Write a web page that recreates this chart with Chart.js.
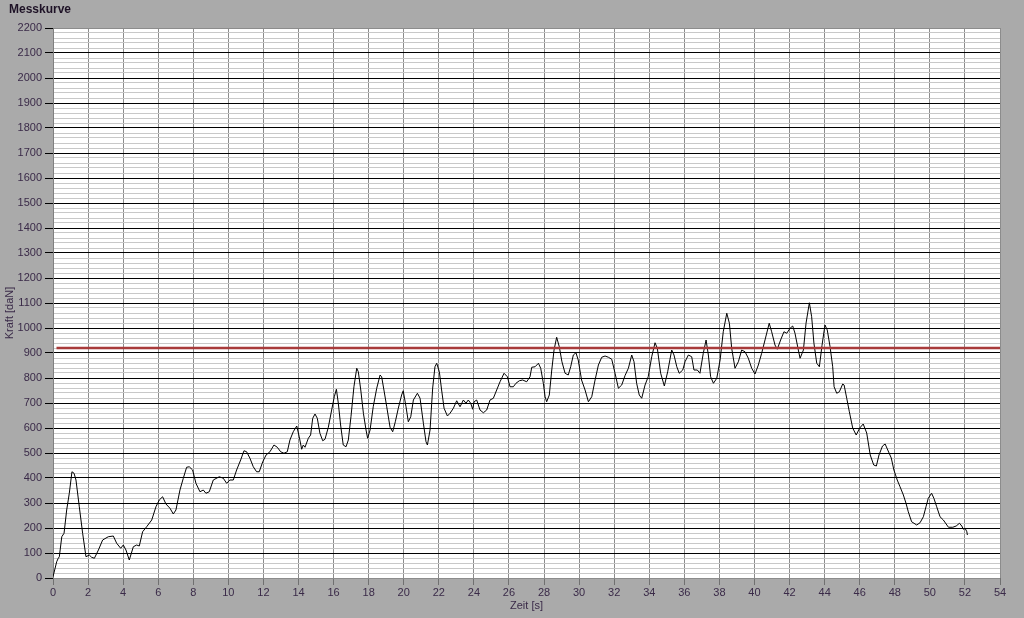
<!DOCTYPE html>
<html>
<head>
<meta charset="utf-8">
<script src="https://cdn.jsdelivr.net/npm/chart.js@4/dist/chart.umd.min.js"></script>
<style>
  html, body { margin: 0; padding: 0; background: #aaaaaa; }
  #wrap { width: 1024px; height: 618px; }
</style>
</head>
<body>
<div id="wrap"><canvas id="chart" width="1024" height="618"></canvas></div>
<script>
// Messkurve - Kraft über Zeit

const timeS = [
  0, 0.21, 0.3, 0.36, 0.5, 0.63, 0.78, 0.93, 1.08, 1.2, 1.31, 1.5, 1.69, 1.88, 2.07, 2.2, 2.36, 2.59, 2.83, 3.15,
  3.44, 3.63, 3.86, 4.01, 4.16, 4.35, 4.58, 4.77, 4.92, 5.11, 5.34, 5.63, 5.87, 6.06, 6.25, 6.44, 6.67, 6.86, 7.01, 7.24,
  7.43, 7.62, 7.77, 7.96, 8.15, 8.38, 8.57, 8.72, 8.91, 9.14, 9.48, 9.71, 9.9, 10.09, 10.28, 10.47, 10.7, 10.89, 11.04, 11.23,
  11.42, 11.61, 11.76, 11.96, 12.15, 12.37, 12.6, 12.79, 12.98, 13.17, 13.36, 13.51, 13.7, 13.9, 14.04, 14.18, 14.27, 14.37, 14.56, 14.69,
  14.81, 14.94, 15.07, 15.22, 15.38, 15.51, 15.7, 15.89, 16.04, 16.16, 16.27, 16.4, 16.55, 16.71, 16.84, 16.99, 17.16, 17.32, 17.41, 17.55,
  17.7, 17.85, 17.94, 18.08, 18.26, 18.46, 18.65, 18.74, 18.87, 19.03, 19.22, 19.37, 19.52, 19.69, 19.88, 19.97, 20.13, 20.26, 20.4, 20.55,
  20.78, 20.93, 21.12, 21.27, 21.35, 21.5, 21.65, 21.78, 21.88, 22.03, 22.16, 22.3, 22.49, 22.64, 22.83, 23.02, 23.21, 23.4, 23.55, 23.68,
  23.82, 23.93, 24.01, 24.16, 24.35, 24.54, 24.73, 24.92, 25.11, 25.3, 25.49, 25.72, 25.91, 26.06, 26.25, 26.4, 26.59, 26.78, 27.01, 27.2,
  27.3, 27.49, 27.68, 27.81, 27.96, 28.06, 28.15, 28.3, 28.44, 28.57, 28.72, 28.87, 29.02, 29.2, 29.38, 29.52, 29.67, 29.82, 29.95, 30.14,
  30.34, 30.53, 30.72, 30.91, 31.1, 31.29, 31.48, 31.67, 31.86, 32.05, 32.24, 32.43, 32.62, 32.81, 33.0, 33.13, 33.28, 33.43, 33.57, 33.76,
  33.94, 34.14, 34.33, 34.46, 34.65, 34.86, 35.05, 35.28, 35.41, 35.57, 35.71, 35.91, 36.04, 36.23, 36.42, 36.55, 36.74, 36.89, 37.08, 37.24,
  37.37, 37.5, 37.66, 37.85, 38.04, 38.22, 38.42, 38.57, 38.7, 38.89, 39.08, 39.27, 39.46, 39.65, 39.84, 40.03, 40.22, 40.41, 40.6, 40.84,
  40.98, 41.17, 41.3, 41.49, 41.68, 41.84, 42.03, 42.18, 42.31, 42.5, 42.6, 42.79, 42.94, 43.13, 43.26, 43.39, 43.55, 43.7, 43.85, 44.02,
  44.15, 44.31, 44.46, 44.54, 44.69, 44.84, 45.03, 45.11, 45.26, 45.41, 45.6, 45.8, 46.0, 46.2, 46.4, 46.6, 46.8, 46.95, 47.1, 47.3,
  47.45, 47.6, 47.8, 47.95, 48.14, 48.3, 48.49, 48.64, 48.77, 48.96, 49.25, 49.44, 49.63, 49.78, 49.91, 50.1, 50.23, 50.39, 50.58, 50.77,
  51.06, 51.31, 51.5, 51.69, 51.82, 51.91, 52.01, 52.11, 52.14
]

const forceDaN = [
  5, 65, 79, 85, 165, 179, 272, 339, 425, 419, 392, 285, 179, 85, 92, 83, 79, 112, 152, 165,
  168, 139, 119, 132, 112, 72, 125, 132, 128, 185, 205, 232, 285, 312, 325, 296, 279, 256, 272, 352,
  399, 443, 445, 432, 379, 345, 352, 339, 345, 392, 405, 399, 379, 392, 392, 432, 472, 509, 505, 479,
  445, 425, 425, 465, 492, 505, 532, 523, 505, 499, 505, 552, 585, 608, 565, 515, 532, 523, 559, 572,
  639, 656, 639, 579, 549, 555, 603, 672, 725, 755, 699, 612, 532, 525, 552, 645, 765, 839, 825, 752,
  659, 592, 559, 592, 685, 759, 812, 805, 752, 685, 603, 585, 625, 679, 732, 749, 685, 625, 645, 712,
  739, 719, 619, 545, 532, 592, 760, 845, 859, 825, 752, 679, 648, 659, 679, 709, 685, 712, 699, 712,
  699, 675, 705, 712, 672, 661, 672, 712, 719, 752, 785, 819, 805, 765, 765, 779, 789, 792, 785, 805,
  843, 845, 859, 839, 779, 725, 705, 732, 832, 912, 963, 925, 865, 819, 812, 845, 892, 901, 872, 792,
  752, 705, 725, 792, 852, 883, 888, 883, 875, 819, 759, 772, 810, 839, 892, 865, 779, 732, 719, 772,
  805, 885, 941, 919, 819, 768, 825, 912, 892, 845, 819, 832, 865, 892, 885, 832, 832, 819, 899, 952,
  892, 805, 779, 799, 872, 985, 1059, 1019, 919, 839, 865, 912, 905, 879, 839, 816, 852, 899, 952, 1019,
  985, 932, 915, 952, 985, 979, 999, 1008, 979, 912, 879, 912, 1019, 1101, 1045, 939, 859, 845, 930, 1012,
  992, 925, 845, 765, 739, 745, 776, 772, 719, 665, 600, 572, 600, 616, 580, 492, 452, 448, 492, 528,
  536, 512, 480, 432, 392, 365, 332, 299, 265, 225, 212, 221, 245, 285, 319, 339, 319, 285, 245, 232,
  203, 203, 208, 219, 208, 195, 199, 185, 172
]

const limitDaN = 920
const xMax = 54
const yMax = 2200

const fontFamily = '"Liberation Sans", Arial, sans-serif'
const tickFont = { family: fontFamily, size: 11 }
const labelColor = '#3a2a48'

// grauer Hintergrund + weisse Plotfläche + Beschriftungen
const frame = {
  id: 'frame',
  beforeDraw(chart) {
    const { ctx, chartArea: a } = chart
    ctx.save()
    ctx.fillStyle = '#aaaaaa'
    ctx.fillRect(0, 0, chart.width, chart.height)
    ctx.fillStyle = '#ffffff'
    ctx.fillRect(a.left, a.top, a.right - a.left, a.bottom - a.top)
    ctx.restore()
  },
  afterDraw(chart) {
    const { ctx, chartArea: a } = chart
    ctx.save()
    ctx.fillStyle = '#1e1226'
    ctx.font = 'bold 12px ' + fontFamily
    ctx.textBaseline = 'middle'
    ctx.textAlign = 'left'
    ctx.fillText('Messkurve', 9, 10)

    ctx.fillStyle = labelColor
    ctx.font = '11px ' + fontFamily
    ctx.textAlign = 'center'
    ctx.fillText('Zeit [s]', (a.left + a.right) / 2, 606)

    ctx.translate(10, 313)
    ctx.rotate(-Math.PI / 2)
    ctx.fillText('Kraft [daN]', 0, 0)
    ctx.restore()
  }
}

const points = timeS.map((t, i) => ({ x: t, y: forceDaN[i] }))

new Chart(document.getElementById('chart').getContext('2d'), {
  type: 'line',
  data: {
    datasets: [
      {
        label: 'Grenzwert',
        data: [{ x: 0.2, y: limitDaN }, { x: xMax, y: limitDaN }],
        borderColor: '#a83a3a',
        borderWidth: 2.5,
        pointRadius: 0,
      },
      {
        label: 'Kraft',
        data: points,
        borderColor: '#000000',
        borderWidth: 1,
        pointRadius: 0,
        tension: 0,
      },
    ]
  },
  options: {
    responsive: false,
    animation: false,
    layout: { padding: { top: 28, right: 24, left: 0, bottom: 0 } },
    plugins: {
      legend: { display: false },
      title: { display: false },
      tooltip: { enabled: false },
    },
    scales: {
      x: {
        type: 'linear',
        min: 0,
        max: xMax,
        afterFit(scale) { scale.height = 40 },
        ticks: {
          stepSize: 2,
          autoSkip: false,
          maxRotation: 0,
          padding: 1,
          color: labelColor,
          font: tickFont,
        },
        grid: {
          color: '#8c8c8c',
          tickColor: '#707070',
          tickLength: 7,
        },
        border: { display: false },
      },
      y: {
        min: 0,
        max: yMax,
        afterFit(scale) { scale.width = 53 },
        ticks: {
          stepSize: 20,
          autoSkip: false,
          padding: 3,
          color: labelColor,
          font: tickFont,
          callback: v => (v % 100 === 0 ? v : ''),
        },
        grid: {
          color: c => {
            const v = c.tick.value
            if (v === 0 || v === yMax) return '#8c8c8c'
            return v % 100 === 0 ? '#000000' : '#c8c8c8'
          },
          tickColor: c => (c.tick.value % 100 === 0 ? '#000000' : 'rgba(0,0,0,0)'),
          tickLength: 8,
        },
        border: { color: '#808080' },
      }
    }
  },
  plugins: [frame]
})
</script>
</body>
</html>
